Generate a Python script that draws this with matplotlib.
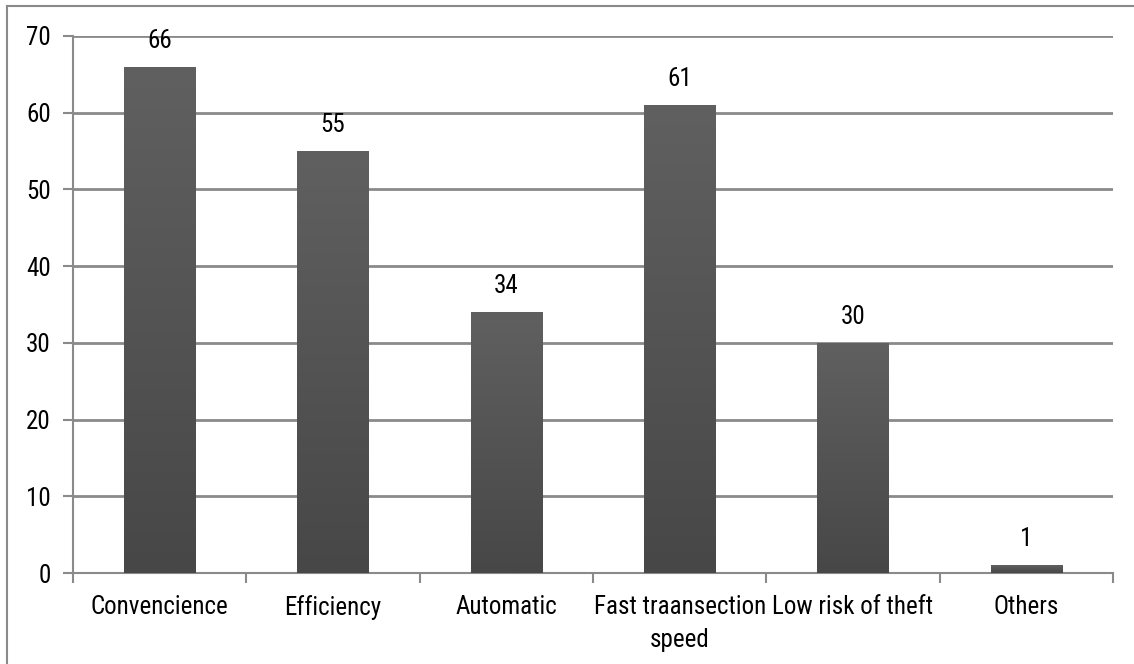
import numpy as np
import matplotlib
matplotlib.use('Agg')
import matplotlib.pyplot as plt
from matplotlib.colors import LinearSegmentedColormap
from matplotlib.lines import Line2D

categories = ['Convencience', 'Efficiency', 'Automatic', 'Fast traansection\nspeed',
              'Low risk of theft', 'Others']
values = [66, 55, 34, 61, 30, 1]

plt.rcParams['font.family'] = ['Roboto Condensed', 'Liberation Sans', 'DejaVu Sans']

fig = plt.figure(figsize=(11.34, 6.64), dpi=100, facecolor='white')
ax = fig.add_axes([0.0644, 0.137, 0.9171, 0.8088])

# outer chart border (left and top visible)
fig.add_artist(Line2D([7 / 1134, 7 / 1134], [0, 1 - 6 / 664], transform=fig.transFigure,
                      color='#8a8a8a', lw=1.5))
fig.add_artist(Line2D([7 / 1134, 1], [1 - 6 / 664, 1 - 6 / 664], transform=fig.transFigure,
                      color='#8a8a8a', lw=1.5))

x = np.arange(len(categories))
width = 0.41
cmap = LinearSegmentedColormap.from_list('bar', ['#474747', '#606060'])
grad = np.linspace(0, 1, 256).reshape(-1, 1)

bars = ax.bar(x, values, width=width, color='#555555', zorder=2)
for b in bars:
    x0, w, h = b.get_x(), b.get_width(), b.get_height()
    im = ax.imshow(grad, cmap=cmap, origin='lower', aspect='auto',
                   extent=(x0, x0 + w, 0, h), zorder=3)
    im.set_clip_path(b)
    ax.annotate(str(h), (x0 + w / 2, h), xytext=(0, 10), textcoords='offset points',
                ha='center', va='bottom', fontsize=18, color='black')

ax.set_xlim(-0.5, len(categories) - 0.5)
ax.set_ylim(0, 70)
ax.set_yticks(range(0, 71, 10))
ax.set_xticks(np.arange(-0.5, len(categories), 1.0))
ax.set_xticklabels([])
ax.set_xticks(x, minor=True)
ax.set_xticklabels(categories, minor=True, fontsize=18, linespacing=1.45)
ax.tick_params(axis='x', which='minor', length=0, pad=16)
ax.tick_params(axis='x', which='major', length=7, width=1.5, color='#8a8a8a')
ax.tick_params(axis='y', length=7, width=1.5, color='#8a8a8a', labelsize=18, pad=9)

ax.yaxis.grid(True, color='#8a8a8a', lw=2)
ax.set_axisbelow(True)
for s in ['top', 'right']:
    ax.spines[s].set_visible(False)
for s in ['left', 'bottom']:
    ax.spines[s].set_color('#8a8a8a')
    ax.spines[s].set_linewidth(1.5)

fig.savefig('out.png', dpi=100, facecolor='white')
